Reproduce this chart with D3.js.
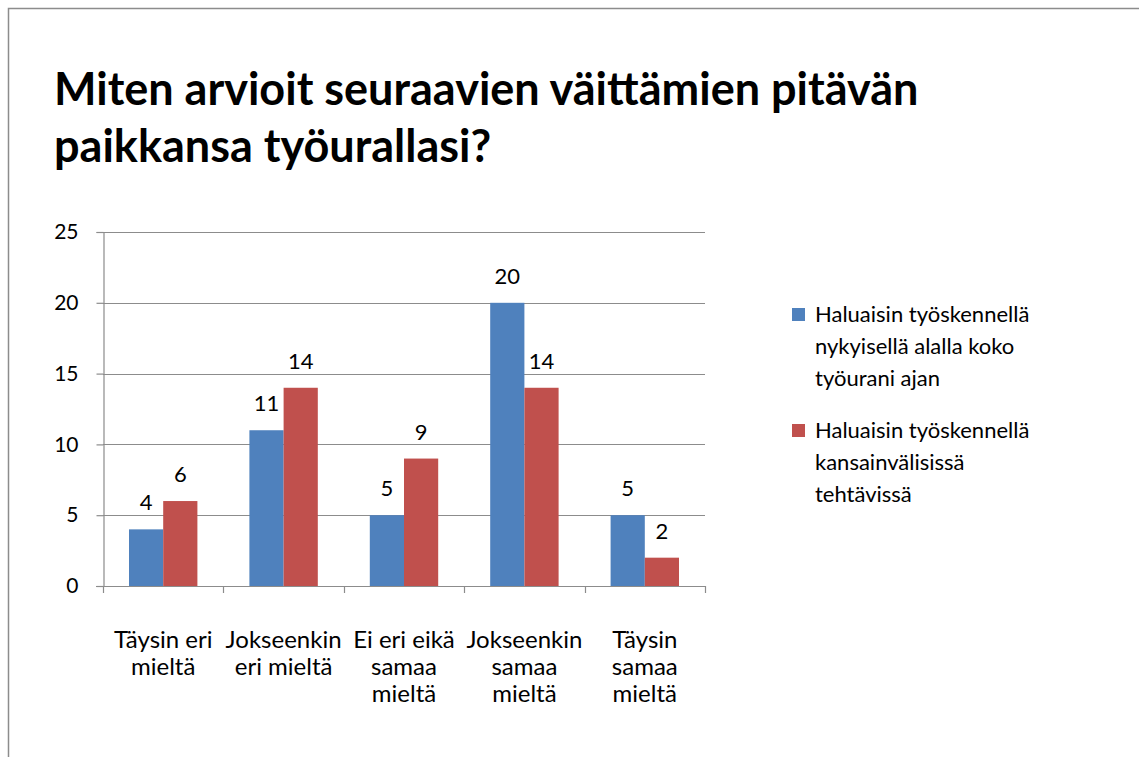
<!DOCTYPE html>
<html>
<head>
<meta charset="utf-8">
<script src="https://cdn.jsdelivr.net/npm/d3@7"></script>
<style>
  body { margin: 0; background: #fff; }
  svg { font-family: Lato, "Open Sans", sans-serif; }
</style>
</head>
<body>
<svg id="chart" width="1139" height="757"></svg>
<script>
var categories = [
  ['Täysin eri', 'mieltä'],
  ['Jokseenkin', 'eri mieltä'],
  ['Ei eri eikä', 'samaa', 'mieltä'],
  ['Jokseenkin', 'samaa', 'mieltä'],
  ['Täysin', 'samaa', 'mieltä']
];
var series_names = [
  ['Haluaisin työskennellä', 'nykyisellä alalla koko', 'työurani ajan'],
  ['Haluaisin työskennellä', 'kansainvälisissä', 'tehtävissä']
];
var current_field = [4, 11, 5, 20, 5];
var international = [6, 14, 9, 14, 2];
var y_ticks = [0, 5, 10, 15, 20, 25];
var title_lines = ['Miten arvioit seuraavien väittämien pitävän', 'paikkansa työurallasi?'];

var colors = ['#4F81BD', '#C0504D'];
var series = [current_field, international];

var svg = d3.select('#chart');
var padding = {top: 232, left: 103, right: 434, bottom: 171};
var width = 1139, height = 757;

// outer frame
svg.append('rect')
  .attr('x', 8.5).attr('y', 8.5)
  .attr('width', 1140).attr('height', 760)
  .attr('fill', 'none').attr('stroke', '#8c8c8c').attr('stroke-width', 1.5);

// title
svg.append('g').selectAll('text')
  .data(title_lines)
  .enter().append('text')
  .attr('x', 54)
  .attr('y', function(d, i){ return 105 + i * 57; })
  .attr('font-size', 45)
  .attr('font-weight', 'bold')
  .attr('fill', '#000')
  .text(function(d){ return d; });

var x_scale = d3.scaleBand()
  .domain(d3.range(categories.length))
  .range([padding.left, width - padding.right])
  .paddingInner(0).paddingOuter(0);

var y_scale = d3.scaleLinear()
  .domain([0, 25])
  .range([height - padding.bottom, padding.top]);

// gridlines
svg.append('g').selectAll('line')
  .data(y_ticks.slice(1))
  .enter().append('line')
  .attr('x1', padding.left).attr('x2', width - padding.right)
  .attr('y1', function(d){ return Math.round(y_scale(d)) + 0.5; })
  .attr('y2', function(d){ return Math.round(y_scale(d)) + 0.5; })
  .attr('stroke', '#8c8c8c').attr('stroke-width', 1.2);

// y axis
var y_axis = svg.append('g')
  .attr('transform', 'translate(' + (padding.left + 0.5) + ',0)')
  .call(d3.axisLeft(y_scale).tickValues(y_ticks).tickSize(7).tickPadding(18));
y_axis.selectAll('path, line').attr('stroke', '#8c8c8c').attr('stroke-width', 1.2);
y_axis.selectAll('text').attr('font-size', 21).attr('font-family', 'Lato, sans-serif').attr('fill', '#000');

// bars
var inner = 26;
var bar_w = (x_scale.bandwidth() - 2 * inner) / 2;
var groups = svg.append('g').selectAll('g')
  .data(series)
  .enter().append('g')
  .attr('fill', function(d, i){ return colors[i]; });

groups.each(function(vals, si){
  var g = d3.select(this);
  g.selectAll('rect')
    .data(vals)
    .enter().append('rect')
    .attr('x', function(d, i){ return x_scale(i) + inner + si * bar_w; })
    .attr('y', function(d){ return y_scale(d); })
    .attr('width', bar_w)
    .attr('height', function(d){ return y_scale(0) - y_scale(d); });
  g.selectAll('text')
    .data(vals)
    .enter().append('text')
    .attr('x', function(d, i){ return x_scale(i) + inner + si * bar_w + bar_w / 2; })
    .attr('y', function(d){ return y_scale(d) - 19; })
    .attr('text-anchor', 'middle')
    .attr('font-size', 22)
    .attr('fill', '#000')
    .text(function(d){ return d; });
});

// x axis
var x_axis_line = y_scale(0);
var x_ticks = d3.range(categories.length + 1).map(function(i){
  return padding.left + i * x_scale.bandwidth();
});
svg.append('line')
  .attr('x1', padding.left - 7).attr('x2', width - padding.right)
  .attr('y1', Math.round(x_axis_line) + 0.5).attr('y2', Math.round(x_axis_line) + 0.5)
  .attr('stroke', '#8c8c8c').attr('stroke-width', 1.2);
svg.append('g').selectAll('line')
  .data(x_ticks)
  .enter().append('line')
  .attr('x1', function(d){ return Math.round(d) + 0.5; })
  .attr('x2', function(d){ return Math.round(d) + 0.5; })
  .attr('y1', x_axis_line).attr('y2', x_axis_line + 7)
  .attr('stroke', '#8c8c8c').attr('stroke-width', 1.2);

// category labels
var cat_labels = svg.append('g').selectAll('text')
  .data(categories)
  .enter().append('text')
  .attr('text-anchor', 'middle')
  .attr('font-size', 24)
  .attr('fill', '#000');
cat_labels.each(function(lines, i){
  d3.select(this).selectAll('tspan')
    .data(lines)
    .enter().append('tspan')
    .attr('x', x_scale(i) + x_scale.bandwidth() / 2)
    .attr('y', function(d, j){ return 648 + j * 27; })
    .text(function(d){ return d; });
});

// legend
var legend = svg.append('g').selectAll('g')
  .data(series_names)
  .enter().append('g')
  .attr('transform', function(d, i){ return 'translate(792,' + (308 + i * 116) + ')'; });
legend.append('rect')
  .attr('width', 13).attr('height', 13)
  .attr('fill', function(d, i){ return colors[i]; });
legend.append('text')
  .attr('font-size', 22)
  .attr('fill', '#000')
  .selectAll('tspan')
  .data(function(d){ return d; })
  .enter().append('tspan')
  .attr('x', 23)
  .attr('y', function(d, j){ return 14 + j * 32; })
  .text(function(d){ return d; });
</script>
</body>
</html>
